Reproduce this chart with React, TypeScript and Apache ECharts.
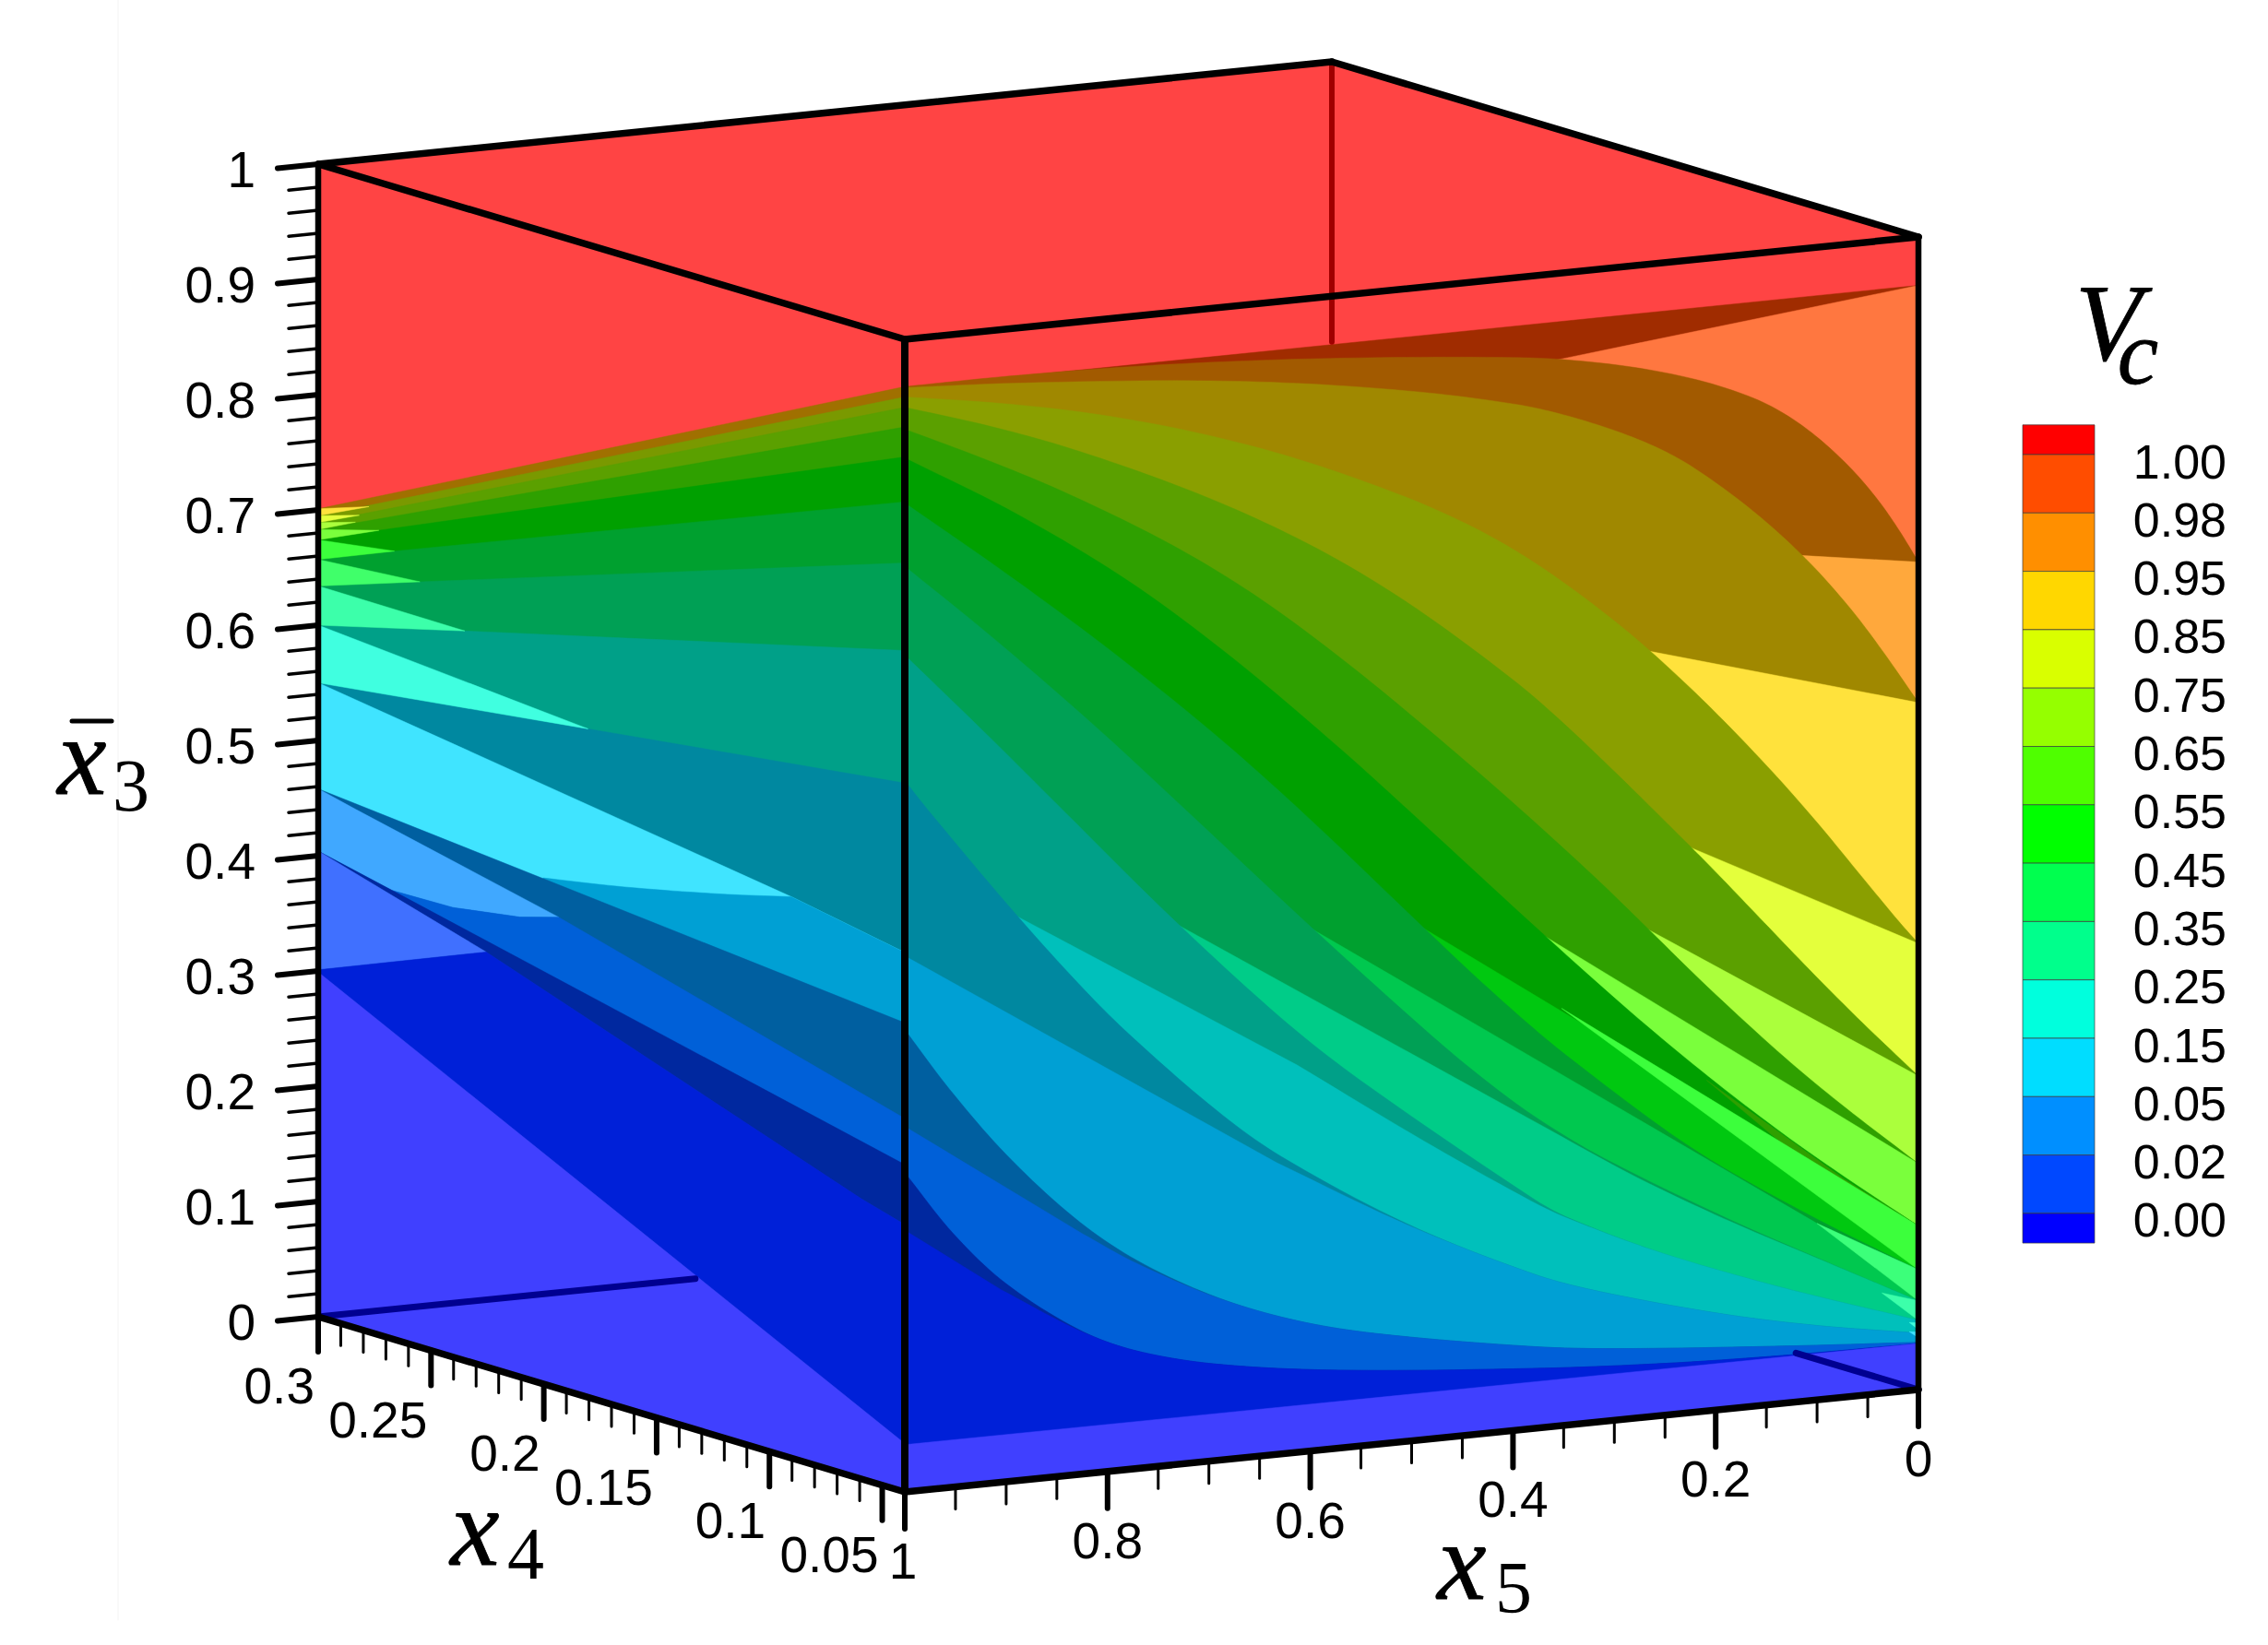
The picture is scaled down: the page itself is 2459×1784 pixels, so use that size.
import React, { useEffect, useRef } from "react";
import * as echarts from "echarts";

// ---- right face (x4 = min): contour boundaries as [x5, x3bar]
const C1 = [[1, 0.958], [0, 0.958]];
const L0 = [[0.346, 0.926], [0, 0.958]];
const C2 = [[1, 0.959], [0.897, 0.961], [0.775, 0.958], [0.653, 0.952], [0.531, 0.944], [0.4, 0.932], [0.346, 0.926], [0.279, 0.914], [0.218, 0.898], [0.167, 0.88], [0.134, 0.862], [0.1, 0.839], [0.066, 0.808], [0.039, 0.777], [0.018, 0.748], [0, 0.718]];
const L1 = [[0.109, 0.733], [0, 0.718]];
const C3 = [[1, 0.958], [0.897, 0.955], [0.735, 0.943], [0.613, 0.93], [0.491, 0.912], [0.4, 0.893], [0.355, 0.88], [0.3, 0.861], [0.255, 0.841], [0.218, 0.821], [0.161, 0.779], [0.109, 0.733], [0.066, 0.687], [0.036, 0.645], [0, 0.596]];
const L2 = [[0.257, 0.662], [0, 0.596]];
const C4 = [[1, 0.95], [0.905, 0.94], [0.816, 0.92], [0.714, 0.899], [0.613, 0.866], [0.511, 0.825], [0.45, 0.794], [0.4, 0.768], [0.355, 0.737], [0.303, 0.696], [0.257, 0.662], [0.203, 0.609], [0.143, 0.55], [0.097, 0.5], [0.057, 0.451], [0.021, 0.407], [0, 0.387]];
const L3 = [[0.22, 0.488], [0, 0.387]];
const C5 = [[1, 0.941], [0.917, 0.92], [0.836, 0.894], [0.735, 0.853], [0.653, 0.816], [0.572, 0.775], [0.491, 0.724], [0.4, 0.654], [0.355, 0.616], [0.298, 0.561], [0.22, 0.488], [0.197, 0.463], [0.152, 0.419], [0.103, 0.369], [0.057, 0.322], [0, 0.272]];
const L4 = [[0.267, 0.423], [0, 0.272]];
const C6 = [[1, 0.922], [0.917, 0.889], [0.836, 0.853], [0.735, 0.802], [0.653, 0.752], [0.572, 0.69], [0.491, 0.621], [0.4, 0.548], [0.318, 0.474], [0.268, 0.425], [0.209, 0.366], [0.134, 0.298], [0.073, 0.25], [0, 0.196]];
const L5 = [[0.375, 0.43], [0, 0.196]];
const C7 = [[1, 0.897], [0.885, 0.845], [0.775, 0.774], [0.674, 0.698], [0.572, 0.609], [0.5, 0.546], [0.375, 0.43], [0.285, 0.352], [0.209, 0.288], [0.134, 0.233], [0.073, 0.189], [0, 0.142]];
const L6 = [[0.489, 0.444], [0, 0.142]];
const SLIVER = [[0.209, 0.287], [0.134, 0.233], [0.073, 0.189], [0, 0.142], [0.073, 0.183], [0.134, 0.225]];
const WEDGE_A = [[0.352, 0.362], [0, 0.142], [0, 0.104]];
const C8 = [[1, 0.858], [0.897, 0.788], [0.796, 0.715], [0.694, 0.632], [0.601, 0.555], [0.489, 0.444], [0.437, 0.394], [0.382, 0.35], [0.346, 0.317], [0.255, 0.247], [0.194, 0.208], [0.1, 0.153], [0, 0.104]];
const L7 = [[0.607, 0.458], [0.1, 0.153], [0, 0.077]];
const WEDGE_B = [[0.1, 0.153], [0, 0.104], [0, 0.077]];
const C9 = [[1, 0.803], [0.91, 0.734], [0.81, 0.65], [0.722, 0.566], [0.607, 0.458], [0.491, 0.358], [0.437, 0.312], [0.382, 0.269], [0.316, 0.226], [0.194, 0.163], [0.088, 0.12], [0, 0.077]];
const L8 = [[0.741, 0.474], [0.382, 0.268], [0.285, 0.207], [0.194, 0.163], [0.088, 0.12], [0, 0.077]];
const WEDGE_C = [[0.036, 0.087], [0, 0.077], [0, 0.06]];
const C10 = [[1, 0.726], [0.919, 0.651], [0.84, 0.576], [0.741, 0.474], [0.633, 0.374], [0.552, 0.315], [0.382, 0.198], [0.346, 0.176], [0.255, 0.135], [0.134, 0.099], [0, 0.06]];
const L9 = [[0.892, 0.491], [0.613, 0.336], [0.491, 0.255], [0.382, 0.198], [0.346, 0.176], [0.255, 0.135], [0.134, 0.099], [0, 0.06]];
const WEDGE_D = [[0.009, 0.059], [0, 0.058], [0, 0.052]];
const C11 = [[1, 0.617], [0.978, 0.588], [0.892, 0.491], [0.824, 0.417], [0.775, 0.372], [0.694, 0.302], [0.633, 0.253], [0.511, 0.18], [0.382, 0.132], [0.316, 0.109], [0.194, 0.083], [0.1, 0.059], [0, 0.049]];
const L10 = [[1, 0.465], [0.633, 0.253], [0.511, 0.18], [0.382, 0.132], [0.316, 0.109], [0.194, 0.083], [0.1, 0.059], [0, 0.049]];
const WEDGE_E = [[0.009, 0.051], [0, 0.05], [0, 0.045]];
const C12 = [[1, 0.401], [0.958, 0.344], [0.905, 0.281], [0.836, 0.22], [0.775, 0.175], [0.694, 0.135], [0.613, 0.111], [0.531, 0.091], [0.382, 0.069], [0.3, 0.06], [0.134, 0.049], [0, 0.041]];
const L11 = [[1, 0.317], [0.824, 0.208], [0.775, 0.175], [0.694, 0.135], [0.613, 0.111], [0.531, 0.091], [0.382, 0.069], [0.3, 0.06], [0.134, 0.049], [0, 0.041]];
const C13 = [[1, 0.277], [0.958, 0.216], [0.905, 0.167], [0.833, 0.12], [0.775, 0.098], [0.694, 0.078], [0.572, 0.064], [0.382, 0.051], [0.255, 0.044], [0.134, 0.039], [0, 0.04]];
const L12 = [[1, 0.227], [0.905, 0.167], [0.833, 0.12], [0.775, 0.098], [0.694, 0.078], [0.572, 0.064], [0.382, 0.051], [0.255, 0.044], [0.134, 0.039], [0, 0.04]];
const STRIP = [[1, 0.041], [0, 0.04]];

// ---- left face (x5 = 1): contour boundaries as [x4, x3bar]
const T0 = [[0.3, 0.701], [0.04, 0.959]];
const T1 = [[0.3, 0.695], [0.04, 0.95]];
const T2 = [[0.3, 0.689], [0.04, 0.941]];
const T3 = [[0.3, 0.683], [0.04, 0.924]];
const T4 = [[0.3, 0.674], [0.2731, 0.698], [0.04, 0.898]];
const T5 = [[0.3, 0.657], [0.2662, 0.684], [0.04, 0.859]];
const T6 = [[0.3, 0.634], [0.2549, 0.664], [0.04, 0.806]];
const T7 = [[0.3, 0.6], [0.235, 0.633], [0.04, 0.73]];
const T8 = [[0.3, 0.55], [0.1804, 0.58], [0.04, 0.615]];
const W0 = [[0.3, 0.701], [0.2775, 0.716], [0.3, 0.695]];
const W1 = [[0.3, 0.695], [0.2818, 0.706], [0.3, 0.689]];
const W2 = [[0.3, 0.689], [0.2835, 0.699], [0.3, 0.683]];
const W3 = [[0.3, 0.683], [0.2731, 0.698], [0.3, 0.674]];
const W4 = [[0.3, 0.674], [0.2662, 0.684], [0.3, 0.657]];
const W5 = [[0.3, 0.657], [0.2549, 0.664], [0.3, 0.634]];
const W6 = [[0.3, 0.634], [0.235, 0.633], [0.3, 0.6]];
const W7 = [[0.3, 0.6], [0.1804, 0.58], [0.3, 0.55]];
const B9 = [[0.3, 0.55], [0.0903, 0.487], [0.04, 0.468]];
const D1 = [[0.2003, 0.439], [0.1639, 0.449], [0.1215, 0.47], [0.0903, 0.487]];
const D1_END = [0.04, 0.468];
const T10 = [[0.3, 0.458], [0.04, 0.407]];
const R1 = [[0.3, 0.458], [0.2835, 0.45], [0.1934, 0.409], [0.2107, 0.399], [0.2402, 0.39], [0.2671, 0.389], [0.3, 0.404]];
const R2 = [[0.2671, 0.389], [0.2402, 0.39], [0.2107, 0.399], [0.1934, 0.409], [0.04, 0.324], [0.04, 0.284]];
const R3 = [[0.3, 0.404], [0.2671, 0.389], [0.04, 0.284], [0.04, 0.232], [0.0591, 0.243], [0.2255, 0.36]];
const R4 = [[0.3, 0.404], [0.2255, 0.36], [0.3, 0.301]];
const R5 = [[0.3, 0.301], [0.2255, 0.36], [0.0591, 0.243], [0.04, 0.232], [0.04, 0.042], [0.3, 0.299]];
const R6 = [[0.3, 0.299], [0.04, 0.042], [0.04, 0], [0.3, 0]];

// ---- axes and legend
const X3_TICKS = [0, 0.1, 0.2, 0.3, 0.4, 0.5, 0.6, 0.7, 0.8, 0.9, 1];
const X3_LABELS = ["0", "0.1", "0.2", "0.3", "0.4", "0.5", "0.6", "0.7", "0.8", "0.9", "1"];
const X4_TICKS = [0.3, 0.25, 0.2, 0.15, 0.1, 0.05];
const X4_LABELS = ["0.3", "0.25", "0.2", "0.15", "0.1", "0.05"];
const X5_TICKS = [1, 0.8, 0.6, 0.4, 0.2, 0];
const X5_LABELS = ["1", "0.8", "0.6", "0.4", "0.2", "0"];
const LEGEND_LABELS = ["1.00", "0.98", "0.95", "0.85", "0.75", "0.65", "0.55", "0.45", "0.35", "0.25", "0.15", "0.05", "0.02", "0.00"];
const LEGEND_COLORS = ["#ff0000", "#ff4d00", "#ff8f00", "#ffd700", "#d9ff00", "#95ff00", "#4fff00", "#00ff00", "#00ff4f", "#00ff8c", "#00ffdd", "#00ddff", "#008fff", "#0048ff", "#0000ff"];

const X4MIN = 0.04;
const X4MAX = 0.3;

// orthographic view of the box in scene units (the hidden axes run in the same units)
function project(x4: number, x5: number, x3: number) {
  const t = (x4 - X4MIN) / (X4MAX - X4MIN);
  const s = 1 - x5;
  return [981 - 636 * t + 1099 * s, 1618 - 190 * t - 111 * s - 1250 * x3];
}
const R = (p: number[]) => [X4MIN, p[0], p[1]];
const Lf = (p: number[]) => [p[0], 1, p[1]];

const below = (a: number[][]) => [...a, [a[a.length - 1][0], 0], [a[0][0], 0]];
const rightFull = [[1, 0], [1, 1], [0, 1], [0, 0]];
const leftFull = [[X4MAX, 0], [X4MAX, 1], [X4MIN, 1], [X4MIN, 0]];

// lets a boundary run on past its start; the next layer, painted later, hides the extra part
function ext(a: number[][]) {
  const d = 0.03;
  const slope = (a[1][1] - a[0][1]) / (a[1][0] - a[0][0]);
  return [[a[0][0] + d, a[0][1] + d * slope], ...a];
}

// evens out reading error along a curve before it is drawn; ends and the
// points before index `from` stay where they were read
function relax(a: number[][], from: number, sx: number, lambda: number) {
  const sy = 1250;
  return a.map((p, i) => {
    if (i <= from || i === a.length - 1) return p;
    const o = a[i - 1];
    const q = a[i + 1];
    const l0 = Math.hypot((p[0] - o[0]) * sx, (p[1] - o[1]) * sy);
    const l1 = Math.hypot((q[0] - p[0]) * sx, (q[1] - p[1]) * sy);
    const u = l0 / (l0 + l1 || 1);
    return [
      p[0] + lambda * (o[0] + (q[0] - o[0]) * u - p[0]),
      p[1] + lambda * (o[1] + (q[1] - o[1]) * u - p[1]),
    ];
  });
}

// draws the points as a smooth curve; points before `from` keep straight edges
function curve(input: number[][], from = 0, sx = 1099) {
  const sy = 1250;
  const a = relax(relax(input, from, sx, 0.6), from, sx, 0.4);
  const out: number[][] = a.slice(0, from + 1).map((p) => p.slice());
  const tan = (i: number) => {
    const p0 = a[Math.max(i - 1, from)];
    const p1 = a[Math.min(i + 1, a.length - 1)];
    const dx = (p1[0] - p0[0]) * sx;
    const dy = (p1[1] - p0[1]) * sy;
    const n = Math.hypot(dx, dy) || 1;
    return [dx / n, dy / n];
  };
  for (let i = from; i < a.length - 1; i++) {
    const p = a[i];
    const q = a[i + 1];
    const L = Math.hypot((q[0] - p[0]) * sx, (q[1] - p[1]) * sy);
    const m0 = tan(i);
    const m1 = tan(i + 1);
    for (let k = 1; k <= 10; k++) {
      const u = k / 10;
      const h00 = 2 * u * u * u - 3 * u * u + 1;
      const h10 = u * u * u - 2 * u * u + u;
      const h01 = -2 * u * u * u + 3 * u * u;
      const h11 = u * u * u - u * u;
      out.push([
        h00 * p[0] + h01 * q[0] + ((h10 * m0[0] + h11 * m1[0]) * L) / sx,
        h00 * p[1] + h01 * q[1] + ((h10 * m0[1] + h11 * m1[1]) * L) / sy,
      ]);
    }
  }
  return out;
}
const S = (a: number[][], from = 0) => below(curve(a, from));
const X = (a: number[][]) => below(ext(a));
const SX = (a: number[][]) => below(curve(ext(a), 2));

type Poly = { pts: number[][]; fill: string };
const rightLayers: [string, number[][]][] = [
  ["#ff4444", rightFull],
  ["#a02c00", below(C1)],
  ["#ff7740", X(L0)],
  ["#a25a00", S(C2)],
  ["#ffa83c", X(L1)],
  ["#a08800", S(C3)],
  ["#ffe23c", X(L2)],
  ["#8a9f00", S(C4)],
  ["#e4ff3c", X(L3)],
  ["#5ba000", S(C5)],
  ["#abff3c", X(L4)],
  ["#2fa000", S(C6)],
  ["#7aff3c", X(L5)],
  ["#00a000", S(C7)],
  ["#00c810", X(L6)],
  ["#2fa000", SLIVER],
  ["#3cff3c", WEDGE_A],
  ["#00a02f", S(C8)],
  ["#00c84f", X(L7)],
  ["#3cff7a", WEDGE_B],
  ["#00a055", S(C9)],
  ["#00cc88", SX(L8)],
  ["#3cffaa", WEDGE_C],
  ["#00a088", S(C10)],
  ["#00c0bb", SX(L9)],
  ["#40ffdd", WEDGE_D],
  ["#0088a0", S(C11)],
  ["#00a0d4", S(L10, 1)],
  ["#40e4ff", WEDGE_E],
  ["#005fa0", S(C12)],
  ["#0060d8", S(L11, 1)],
  ["#00289f", S(C13)],
  ["#0020d8", S(L12, 1)],
  ["#4040ff", below(STRIP)],
];
const leftLayers: [string, number[][]][] = [
  ["#ff4444", leftFull],
  ["#a07000", below(T0)],
  ["#7a9900", below(T1)],
  ["#5ba000", below(T2)],
  ["#2fa000", below(T3)],
  ["#00a000", below(T4)],
  ["#00a02f", below(T5)],
  ["#00a055", below(T6)],
  ["#00a088", below(T7)],
  ["#0088a0", below(T8)],
  ["#ffe23c", W0],
  ["#e4ff3c", W1],
  ["#abff3c", W2],
  ["#7aff3c", W3],
  ["#3cff3c", W4],
  ["#40ff6a", W5],
  ["#3cffaa", W6],
  ["#40ffe0", W7],
  ["#40e4ff", below(B9)],
  ["#00a0d4", below([...curve(D1, 0, 2446), D1_END])],
  ["#005fa0", below(T10)],
  ["#40a8ff", R1],
  ["#0060d8", R2],
  ["#00289f", R3],
  ["#4070ff", R4],
  ["#0020d8", R5],
  ["#4040ff", R6],
];

const polys: Poly[] = [
  { fill: "#ff4444", pts: [project(X4MAX, 1, 1), project(X4MAX, 0, 1), project(X4MIN, 0, 1), project(X4MIN, 1, 1)] },
  ...rightLayers.map(([fill, a]) => ({ fill, pts: a.map((p) => project(...(R(p) as [number, number, number]))) })),
  ...leftLayers.map(([fill, a]) => ({ fill, pts: a.map((p) => project(...(Lf(p) as [number, number, number]))) })),
];

type Seg = { a: number[]; b: number[]; color: string; w: number };
const K = "#000000";
const seg = (a: number[], b: number[], color = K, w = 7.5): Seg => ({ a, b, color, w });
const segs: Seg[] = [
  seg(project(X4MAX, 0, 1), project(X4MAX, 0, 0.757), "#a00000", 6),
  seg(project(X4MAX, 1, 0), project(X4MAX, 0.628, 0), "#000090", 7),
  seg(project(X4MIN, 0, 0), project(0.0943, 0, 0), "#000090", 7),
  seg(project(X4MAX, 1, 1), project(X4MAX, 0, 1)),
  seg(project(X4MAX, 0, 1), project(X4MIN, 0, 1)),
  seg(project(X4MAX, 1, 1), project(X4MIN, 1, 1)),
  seg(project(X4MIN, 1, 1), project(X4MIN, 0, 1)),
  seg(project(X4MAX, 1, 1), project(X4MAX, 1, 0), K, 6.5),
  seg(project(X4MIN, 1, 1), project(X4MIN, 1, 0), K, 8),
  seg(project(X4MIN, 0, 1), project(X4MIN, 0, 0), K, 6.5),
  seg(project(X4MAX, 1, 0), project(X4MIN, 1, 0)),
  seg(project(X4MIN, 1, 0), project(X4MIN, 0, 0)),
];
// x3 ticks
X3_TICKS.forEach((v) => {
  const p = project(X4MAX, 1, v);
  segs.push(seg(p, [p[0] - 44, p[1] + 4.4], K, 6));
});
for (let i = 0; i < 50; i++) {
  if (i % 10 === 0) continue;
  const p = project(X4MAX, 1, i / 50);
  segs.push(seg(p, [p[0] - 32, p[1] + 3.2], K, 3.5));
}
// x4 ticks
X4_TICKS.forEach((v) => {
  const p = project(v, 1, 0);
  segs.push(seg(p, [p[0], p[1] + 38], K, 6));
});
for (let i = 4; i < 30; i++) {
  if (i % 5 === 0) continue;
  const p = project(i / 100, 1, 0);
  segs.push(seg(p, [p[0], p[1] + 24], K, 3));
}
// x5 ticks
X5_TICKS.forEach((v) => {
  const p = project(X4MIN, v, 0);
  segs.push(seg(p, [p[0], p[1] + 40], K, 6));
});
for (let i = 0; i < 20; i++) {
  if (i % 4 === 0) continue;
  const p = project(X4MIN, i / 20, 0);
  segs.push(seg(p, [p[0], p[1] + 24], K, 3));
}
segs.push(seg([128, 0], [128, 1757], "#f3f3f3", 1));

type Txt = { t: string; x: number; y: number; font: string; align: string; heavy?: boolean };
const SANS = "55px 'Liberation Sans'";
const texts: Txt[] = [];
X3_TICKS.forEach((v, i) => {
  const p = project(X4MAX, 1, v);
  texts.push({ t: X3_LABELS[i], x: 277, y: p[1] + 6, font: SANS, align: "right" });
});
X4_TICKS.forEach((v, i) => {
  const p = project(v, 1, 0);
  texts.push({ t: X4_LABELS[i], x: p[0] - 4, y: p[1] + 75, font: SANS, align: "right" });
});
X5_TICKS.forEach((v, i) => {
  const p = project(X4MIN, v, 0);
  texts.push({ t: X5_LABELS[i], x: p[0] - (v === 1 ? 2 : 0), y: p[1] + 75, font: SANS, align: "center" });
});
const SERIF = "italic 120px 'Liberation Serif'";
const DIGIT = "80px 'Liberation Serif'";
texts.push({ t: "x", x: 89, y: 820, font: SERIF, align: "center", heavy: true });
texts.push({ t: "3", x: 142, y: 852, font: DIGIT, align: "center" });
texts.push({ t: "x", x: 515, y: 1656, font: SERIF, align: "center", heavy: true });
texts.push({ t: "4", x: 570, y: 1685, font: DIGIT, align: "center" });
texts.push({ t: "x", x: 1585, y: 1693, font: SERIF, align: "center", heavy: true });
texts.push({ t: "5", x: 1641, y: 1722, font: DIGIT, align: "center" });
texts.push({ t: "V", x: 2286, y: 350, font: "italic 118px 'Liberation Serif'", align: "center", heavy: true });
texts.push({ t: "c", x: 2318, y: 382, font: "italic 100px 'Liberation Serif'", align: "center", heavy: true });
segs.push(seg([78, 782], [121, 782], K, 5));

const LEG_TOP = 460.8;
const LEG_STEP = 63.3;
const LEG_CAP = 32.2;
const legendCells = LEGEND_COLORS.map((fill, i) => {
  const y0 = i === 0 ? LEG_TOP : LEG_TOP + LEG_CAP + (i - 1) * LEG_STEP;
  const y1 = LEG_TOP + LEG_CAP + i * LEG_STEP - (i === LEGEND_COLORS.length - 1 ? LEG_STEP - LEG_CAP : 0);
  return { fill, y0, y1 };
});
LEGEND_LABELS.forEach((t, i) => {
  texts.push({ t, x: 2414, y: LEG_TOP + LEG_CAP + i * LEG_STEP + 7.5, font: "52px 'Liberation Sans'", align: "right" });
});

function coordAll(api: any, pts: number[][]) {
  return pts.map((p) => api.coord(p));
}

export default function App() {
  const ref = useRef<HTMLDivElement>(null);
  useEffect(() => {
    const chart = echarts.init(ref.current!, undefined, { renderer: "svg" });
    chart.setOption({
      animation: false,
      backgroundColor: "#ffffff",
      grid: { left: 0, right: 0, top: 0, bottom: 0 },
      xAxis: { type: "value", min: 0, max: 2459, show: false },
      yAxis: { type: "value", min: 0, max: 1784, inverse: true, show: false },
      tooltip: { show: false },
      series: [
        {
          type: "custom",
          z: 1,
          silent: true,
          data: polys.map((_, i) => [i, 0]),
          renderItem: (params: any, api: any) => {
            const p = polys[params.dataIndex];
            return { type: "polygon", shape: { points: coordAll(api, p.pts) }, style: { fill: p.fill, stroke: p.fill, lineWidth: 0.5 } };
          },
        },
        {
          type: "custom",
          z: 2,
          silent: true,
          data: legendCells.map((_, i) => [i, 0]),
          renderItem: (params: any, api: any) => {
            const c = legendCells[params.dataIndex];
            const a = api.coord([2193, c.y0]);
            const b = api.coord([2271, c.y1]);
            return { type: "rect", shape: { x: a[0], y: a[1], width: b[0] - a[0], height: b[1] - a[1] }, style: { fill: c.fill, stroke: "rgba(60,60,60,0.7)", lineWidth: 1 } };
          },
        },
        {
          type: "custom",
          z: 3,
          silent: true,
          data: segs.map((_, i) => [i, 0]),
          renderItem: (params: any, api: any) => {
            const s = segs[params.dataIndex];
            const a = api.coord(s.a);
            const b = api.coord(s.b);
            return { type: "line", shape: { x1: a[0], y1: a[1], x2: b[0], y2: b[1] }, style: { stroke: s.color, lineWidth: s.w, lineCap: "round" } };
          },
        },
        {
          type: "custom",
          z: 4,
          silent: true,
          data: texts.map((_, i) => [i, 0]),
          renderItem: (params: any, api: any) => {
            const t = texts[params.dataIndex];
            const a = api.coord([t.x, t.y]);
            return {
              type: "text",
              style: {
                text: t.t,
                x: a[0],
                y: a[1],
                font: t.font,
                fill: "#000000",
                stroke: t.heavy ? "#000000" : undefined,
                lineWidth: t.heavy ? 0.8 : 0,
                textAlign: t.align,
                textVerticalAlign: "middle",
              },
            };
          },
        },
      ],
    });
    return () => chart.dispose();
  }, []);
  return <div ref={ref} style={{ position: "absolute", left: 0, top: 0, width: 2459, height: 1784 }} />;
}
